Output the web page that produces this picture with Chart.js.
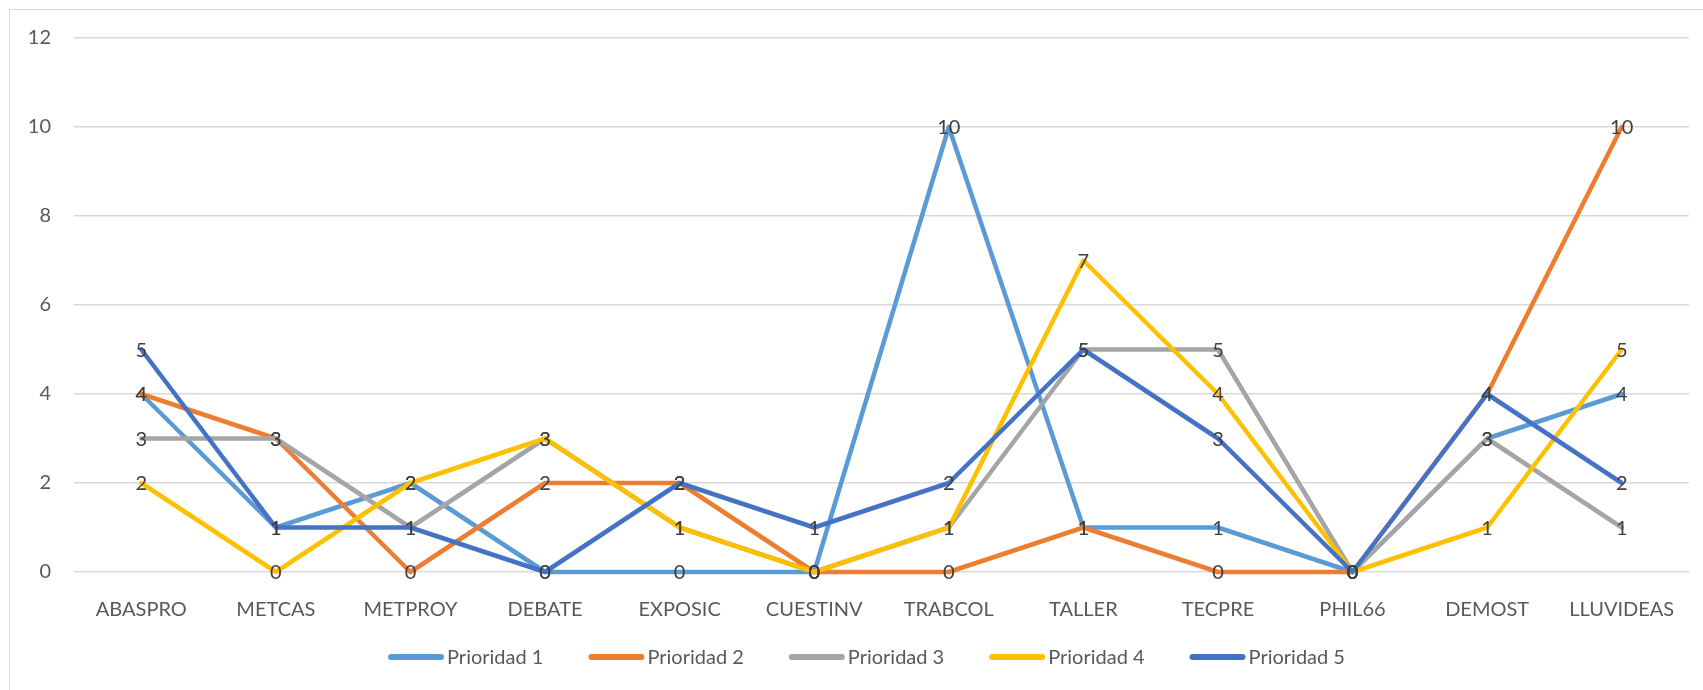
<!DOCTYPE html>
<html>
<head>
<meta charset="utf-8">
<script src="https://cdn.jsdelivr.net/npm/chart.js@4/dist/chart.umd.min.js"></script>
<style>
  body { margin: 0; background: #fff; }
  #wrap { position: relative; width: 1703px; height: 690px; overflow: hidden; }
  #frame { position: absolute; left: 9px; top: 9px; width: 1710px; height: 700px; border: 1px solid #d9d9d9; }
  canvas { position: absolute; left: 0; top: 0; }
</style>
</head>
<body>
<div id="wrap">
  <div id="frame"></div>
  <canvas id="myChart" width="1703" height="690"></canvas>
</div>
<script>
const categories = ['ABASPRO', 'METCAS', 'METPROY', 'DEBATE', 'EXPOSIC', 'CUESTINV', 'TRABCOL', 'TALLER', 'TECPRE', 'PHIL66', 'DEMOST', 'LLUVIDEAS'];
const prioridad1 = [4, 1, 2, 0, 0, 0, 10, 1, 1, 0, 3, 4];
const prioridad2 = [4, 3, 0, 2, 2, 0, 0, 1, 0, 0, 4, 10];
const prioridad3 = [3, 3, 1, 3, 1, 0, 1, 5, 5, 0, 3, 1];
const prioridad4 = [2, 0, 2, 3, 1, 0, 1, 7, 4, 0, 1, 5];
const prioridad5 = [5, 1, 1, 0, 2, 1, 2, 5, 3, 0, 4, 2];
const seriesNames = ['Prioridad 1', 'Prioridad 2', 'Prioridad 3', 'Prioridad 4', 'Prioridad 5'];
const seriesColors = ['#5B9BD5', '#ED7D31', '#A5A5A5', '#FFC000', '#4472C4'];
const yTicks = [0, 2, 4, 6, 8, 10, 12];

const FONT = 'Lato, "Open Sans", sans-serif';
const allSeries = [prioridad1, prioridad2, prioridad3, prioridad4, prioridad5];

// labels on every point, drawn after all lines
const pointLabels = {
  id: 'pointLabels',
  afterDatasetsDraw(chart) {
    const ctx = chart.ctx;
    ctx.save();
    ctx.font = '20px ' + FONT;
    ctx.fillStyle = '#404040';
    ctx.textAlign = 'center';
    ctx.textBaseline = 'middle';
    chart.data.datasets.forEach((ds, i) => {
      const meta = chart.getDatasetMeta(i);
      meta.data.forEach((pt, j) => {
        ctx.fillText(String(ds.data[j]), pt.x, pt.y + 1);
      });
    });
    ctx.restore();
  }
};

// excel style legend: short thick line right against the text
const lineLegend = {
  id: 'lineLegend',
  afterDraw(chart) {
    const ctx = chart.ctx;
    const area = chart.chartArea;
    const boxW = 56, gap = 3, spacing = 45;
    ctx.save();
    ctx.font = '20px ' + FONT;
    ctx.textBaseline = 'middle';
    ctx.textAlign = 'left';
    const items = chart.data.datasets.map(ds => ({ ds, w: ctx.measureText(ds.label).width }));
    const total = items.reduce((s, it) => s + boxW + gap + it.w, 0) + spacing * (items.length - 1);
    let x = (area.left + area.right) / 2 - 15 - total / 2;
    const y = area.bottom + 85;
    items.forEach(it => {
      ctx.strokeStyle = it.ds.borderColor;
      ctx.lineWidth = 6;
      ctx.lineCap = 'round';
      ctx.beginPath();
      ctx.moveTo(x + 3, y);
      ctx.lineTo(x + boxW - 3, y);
      ctx.stroke();
      ctx.fillStyle = '#595959';
      ctx.fillText(it.ds.label, x + boxW + gap, y + 1);
      x += boxW + gap + it.w + spacing;
    });
    ctx.restore();
  }
};

const ctx = document.getElementById('myChart').getContext('2d');
new Chart(ctx, {
  type: 'line',
  data: {
    labels: categories,
    datasets: allSeries.map((vals, i) => ({
      label: seriesNames[i],
      data: vals,
      borderColor: seriesColors[i],
      backgroundColor: seriesColors[i],
      borderWidth: 4.5,
      borderCapStyle: 'round',
      borderJoinStyle: 'round',
      tension: 0,
      pointRadius: 0,
      clip: false,
      order: 5 - i
    }))
  },
  options: {
    responsive: false,
    animation: false,
    layout: { padding: { left: 0, right: 14, top: 38, bottom: 53 } },
    scales: {
      x: {
        offset: true,
        grid: { display: false },
        border: { display: false },
        ticks: { color: '#595959', font: { family: FONT, size: 20 }, padding: 18, maxRotation: 0 },
        afterFit(scale) { scale.height = 65; }
      },
      y: {
        min: 0,
        max: 12,
        afterBuildTicks(scale) { scale.ticks = yTicks.map(v => ({ value: v })); },
        grid: { color: '#d9d9d9', lineWidth: 1.5, drawTicks: false },
        border: { display: false },
        ticks: { color: '#595959', font: { family: FONT, size: 20 }, padding: 23 },
        afterFit(scale) { scale.width = 74; }
      }
    },
    plugins: {
      tooltip: { enabled: false },
      legend: { display: false }
    }
  },
  plugins: [pointLabels, lineLegend]
});
</script>
</body>
</html>
